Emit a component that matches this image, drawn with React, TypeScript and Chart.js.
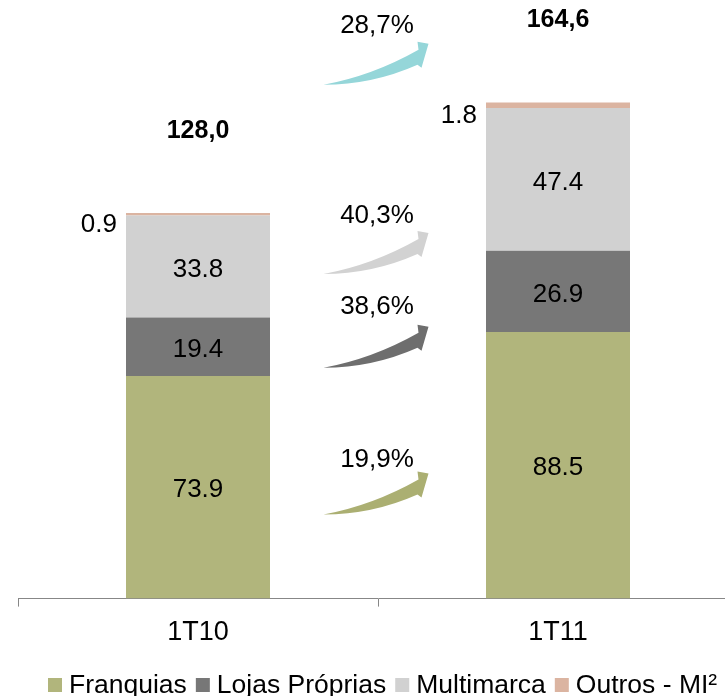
import React, { useEffect, useRef } from "react";
import { Chart, registerables } from "chart.js";

Chart.register(...registerables);

const categories = ["1T10", "1T11"];
const franquias = [73.9, 88.5];
const lojasProprias = [19.4, 26.9];
const multimarca = [33.8, 47.4];
const outros = [0.9, 1.8];
const totalLabels = ["128,0", "164,6"];
const seriesNames = ["Franquias", "Lojas Próprias", "Multimarca", "Outros - MI²"];
const seriesColors = ["#b1b57c", "#777777", "#d1d1d1", "#dbb4a1"];
const growthLabels = ["19,9%", "38,6%", "40,3%", "28,7%"];
const growthColors = ["#abaf72", "#6e6e6e", "#d2d2d2", "#95d6d9"];
const arrowTipValues = [41.5, 90.2, 121.3, 184.1];
const growthLabelValues = [46.7, 97.5, 127.8, 190.7];

const FONT = "'Liberation Sans', Arial, sans-serif";

const overlayPlugin = {
  id: "overlay",
  afterDatasetsDraw(chart: any) {
    const ctx = chart.ctx;
    const xs = chart.scales.x;
    const ys = chart.scales.y;
    ctx.save();
    ctx.fillStyle = "#000";
    ctx.textAlign = "center";
    ctx.textBaseline = "middle";
    ctx.font = `26px ${FONT}`;
    // inner segment labels
    for (let d = 0; d < 3; d++) {
      const meta = chart.getDatasetMeta(d);
      const values = chart.data.datasets[d].data;
      meta.data.forEach((el: any, i: number) => {
        ctx.fillText(values[i].toFixed(1), el.x, (el.y + el.base) / 2 + 3);
      });
    }
    // outros labels (left of bar)
    const metaO = chart.getDatasetMeta(3);
    ctx.textAlign = "right";
    metaO.data.forEach((el: any, i: number) => {
      ctx.fillText(outros[i].toFixed(1), el.x - el.width / 2 - 9, el.y + 12 + i);
    });
    // totals
    ctx.textAlign = "center";
    ctx.font = `bold 25px ${FONT}`;
    metaO.data.forEach((el: any, i: number) => {
      ctx.fillText(totalLabels[i], el.x, el.y - 82);
    });
    // growth arrows
    const mid = (xs.getPixelForValue(0) + xs.getPixelForValue(1)) / 2;
    const tx = mid + 50.5;
    ctx.font = `26px ${FONT}`;
    for (let k = 0; k < growthLabels.length; k++) {
      const ty = ys.getPixelForValue(arrowTipValues[k]);
      ctx.beginPath();
      ctx.moveTo(tx - 105, ty + 41);
      ctx.quadraticCurveTo(tx - 56, ty + 32, tx - 10, ty + 6);
      ctx.lineTo(tx - 11, ty - 2);
      ctx.lineTo(tx, ty);
      ctx.lineTo(tx - 7, ty + 24);
      ctx.lineTo(tx - 11, ty + 21);
      ctx.quadraticCurveTo(tx - 56, ty + 41, tx - 105, ty + 41);
      ctx.closePath();
      ctx.fillStyle = growthColors[k];
      ctx.fill();
      ctx.fillStyle = "#000";
      ctx.fillText(growthLabels[k], mid - 1, ys.getPixelForValue(growthLabelValues[k]) + 2);
    }
    // legend
    let x = 48;
    ctx.textAlign = "left";
    ctx.textBaseline = "alphabetic";
    ctx.font = `26.5px ${FONT}`;
    chart.data.datasets.forEach((ds: any) => {
      ctx.fillStyle = ds.backgroundColor;
      ctx.fillRect(x, 678, 14, 14);
      x += 14 + 7;
      ctx.fillStyle = "#000";
      ctx.fillText(ds.label, x, 693);
      x += ctx.measureText(ds.label).width + 9;
    });
    ctx.restore();
  },
};

export default function App() {
  const ref = useRef<HTMLCanvasElement | null>(null);
  useEffect(() => {
    if (!ref.current) return;
    const seriesData = [franquias, lojasProprias, multimarca, outros];
    const chart = new Chart(ref.current, {
      type: "bar",
      data: {
        labels: categories,
        datasets: seriesData.map((d, i) => ({
          label: seriesNames[i],
          data: d,
          backgroundColor: seriesColors[i],
          borderWidth: 0,
          barPercentage: 0.4,
          categoryPercentage: 1,
        })),
      },
      options: {
        responsive: false,
        animation: false,
        layout: { padding: { left: 18, right: 32, top: 11, bottom: 37 } },
        plugins: { legend: { display: false }, tooltip: { enabled: false } },
        scales: {
          x: {
            stacked: true,
            border: { display: true, color: "#878787", width: 1 },
            grid: { display: true, drawOnChartArea: false, drawTicks: true, tickLength: 8, color: "#878787" },
            ticks: { color: "#000", padding: 10, font: { family: FONT, size: 27 } },
          },
          y: { stacked: true, display: false, min: 0, max: 195 },
        },
      },
      plugins: [overlayPlugin],
    });
    return () => chart.destroy();
  }, []);
  return (
    <div style={{ position: "fixed", left: 0, top: 0, width: 725, height: 696, overflow: "hidden", background: "#fff" }}>
      <canvas ref={ref} width={770} height={696} style={{ display: "block" }} />
    </div>
  );
}
